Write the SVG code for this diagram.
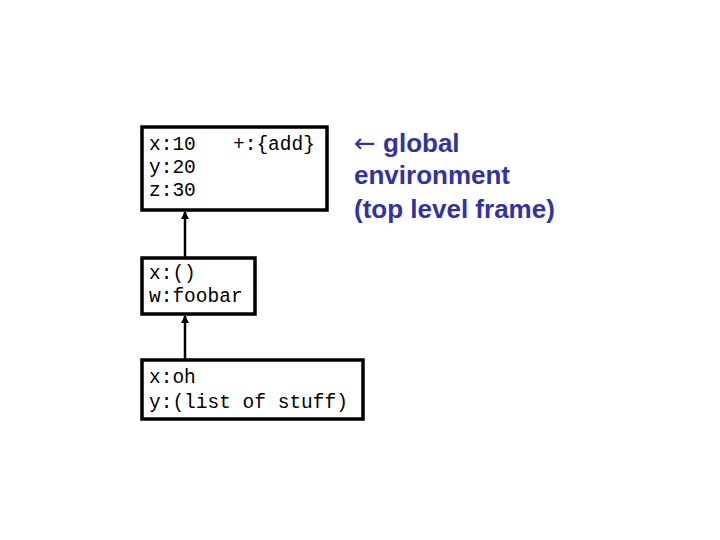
<svg xmlns="http://www.w3.org/2000/svg" width="720" height="540" viewBox="0 0 720 540">
<style>
.box{fill:#fff;stroke:#000;stroke-width:3.5}
.m{font-family:"Liberation Mono",monospace;font-size:19.5px;fill:#000}
.b{font-family:"Liberation Sans",Arial,sans-serif;font-weight:bold;font-size:26px;fill:#3333a0}
.c{stroke:#000;stroke-width:2.5;fill:none;marker-end:url(#ah)}
</style>
<defs><marker id="ah" markerWidth="8" markerHeight="8" refX="7" refY="4" orient="auto" markerUnits="userSpaceOnUse"><path d="M0,0L8,4L0,8z" fill="#000"/></marker></defs>
<rect width="720" height="540" fill="#fff"/>
<g id="connectors">
<line class="c" x1="185" y1="359" x2="185" y2="316"/>
<line class="c" x1="185" y1="257" x2="185" y2="212"/>
</g>
<g id="global">
<rect class="box" x="142" y="127" width="185" height="83"/>
<text class="m" x="149" y="150">x:10</text>
<text class="m" x="233" y="150">+:{add}</text>
<text class="m" x="149" y="173">y:20</text>
<text class="m" x="149" y="196">z:30</text>
</g>
<g id="frame2">
<rect class="box" x="142" y="258" width="113" height="56"/>
<text class="m" x="149" y="279">x:()</text>
<text class="m" x="149" y="302">w:foobar</text>
</g>
<g id="frame3">
<rect class="box" x="142" y="360" width="221" height="59"/>
<text class="m" x="149" y="383">x:oh</text>
<text class="m" x="149" y="408">y:(list of stuff)</text>
</g>
<g id="label">
<text class="b" x="354" y="152"><tspan font-family="DejaVu Sans" font-weight="normal">←</tspan> global</text>
<text class="b" x="354" y="184">environment</text>
<text class="b" x="354" y="218">(top level frame)</text>
</g>
</svg>
